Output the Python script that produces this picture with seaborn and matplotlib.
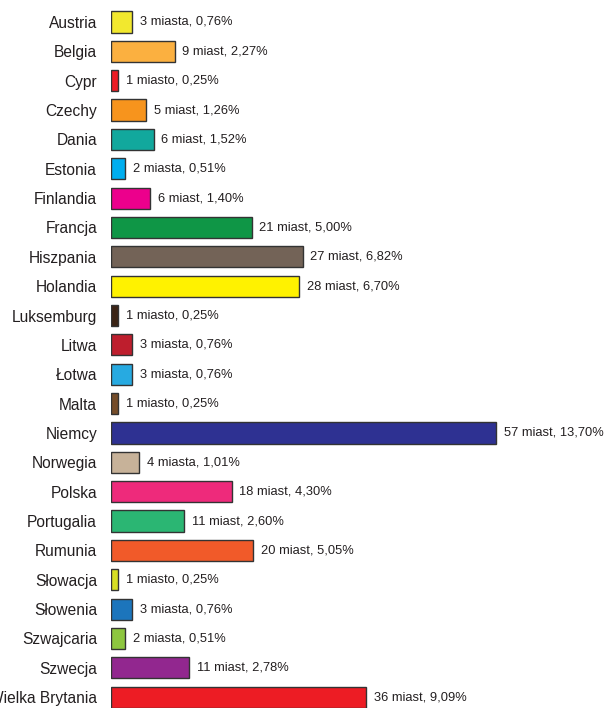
import matplotlib
matplotlib.use("Agg")
import matplotlib.pyplot as plt
import seaborn as sns
import pandas as pd

countries = ["Austria", "Belgia", "Cypr", "Czechy", "Dania", "Estonia", "Finlandia",
             "Francja", "Hiszpania", "Holandia", "Luksemburg", "Litwa", "Łotwa", "Malta",
             "Niemcy", "Norwegia", "Polska", "Portugalia", "Rumunia", "Słowacja",
             "Słowenia", "Szwajcaria", "Szwecja", "Wielka Brytania"]
cities = [3, 9, 1, 5, 6, 2, 6, 21, 27, 28, 1, 3, 3, 1, 57, 4, 18, 11, 20, 1, 3, 2, 11, 36]
percents = [0.76, 2.27, 0.25, 1.26, 1.52, 0.51, 1.40, 5.00, 6.82, 6.70, 0.25, 0.76, 0.76,
            0.25, 13.70, 1.01, 4.30, 2.60, 5.05, 0.25, 0.76, 0.51, 2.78, 9.09]
colors = ["#F2E82E", "#FBB040", "#ED1C24", "#F7941D", "#12A89D", "#00AEEF", "#EC008C",
          "#0F9646", "#736357", "#FFF200", "#3C2415", "#BE1E2D", "#27AAE1", "#754C29",
          "#2E3192", "#C7B299", "#EE2A7B", "#2BB673", "#F15A29", "#D7DF23", "#1C75BC",
          "#8DC63F", "#92278F", "#ED1C24"]


def word(n):
    if n == 1:
        return "miasto"
    if 2 <= n <= 4:
        return "miasta"
    return "miast"


labels = [f"{n} {word(n)}, {p:.2f}".replace(".", ",") + "%" for n, p in zip(cities, percents)]

df = pd.DataFrame({"country": countries, "pct": percents})

sns.set_style("white")
plt.rcParams["font.family"] = ["Liberation Sans", "DejaVu Sans"]

fig = plt.figure(figsize=(6.04, 7.08), dpi=100)
ax = fig.add_axes([111 / 604, 0.0, (598 - 111) / 604, (708 - 7.3) / 708])

sns.barplot(data=df, x="pct", y="country", hue="country",
            palette=dict(zip(countries, colors)), legend=False,
            width=0.72, edgecolor="#333333", linewidth=1.0, ax=ax, saturation=1)

for i, (p, lab) in enumerate(zip(percents, labels)):
    ax.annotate(lab, xy=(p, i), xytext=(5.5, 0), textcoords="offset points",
                va="center", ha="left", fontsize=9.3, color="#231F20")

ax.set_xlim(0, 487 / 28.1)
ax.set_ylim(23.37, -0.5)
ax.set_xlabel("")
ax.set_ylabel("")
ax.set_xticks([])
ax.tick_params(axis="y", length=0, pad=10, labelsize=11.2, labelcolor="#231F20")
for s in ax.spines.values():
    s.set_visible(False)

fig.savefig("out.png", dpi=100)
